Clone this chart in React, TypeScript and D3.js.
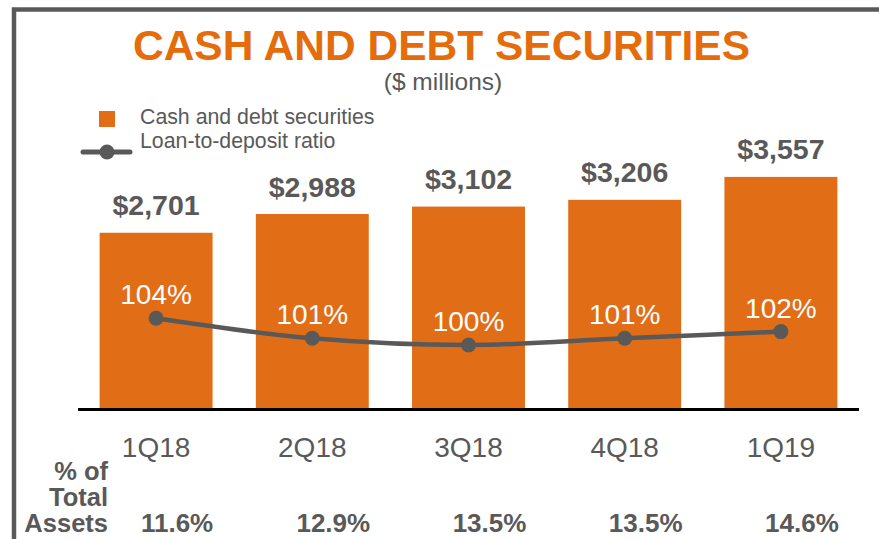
import React from "react";
import * as d3 from "d3";

const categories = ["1Q18", "2Q18", "3Q18", "4Q18", "1Q19"];
const cashValues = [2701, 2988, 3102, 3206, 3557];
const cashLabels = ["$2,701", "$2,988", "$3,102", "$3,206", "$3,557"];
const ratioValues = [104, 101, 100, 101, 102];
const ratioLabels = ["104%", "101%", "100%", "101%", "102%"];
const pctTotalAssets = ["11.6%", "12.9%", "13.5%", "13.5%", "14.6%"];

const W = 879;
const H = 539;
const ORANGE = "#E26D17";
const TITLE_ORANGE = "#E46C0A";
const GRAY = "#595959";
const FONT = "'Liberation Sans', Arial, Helvetica, sans-serif";

export default function App() {
  const x = d3
    .scaleBand<string>()
    .domain(categories)
    .range([78, 859])
    .paddingInner(0.277)
    .paddingOuter(0.1385);
  const y = d3.scaleLinear().domain([0, 4000]).range([409, 148]);
  const yr = d3.scaleLinear().domain([80, 110]).range([479, 278]);
  const cx = (c: string) => (x(c) as number) + x.bandwidth() / 2;

  const line = d3
    .line<number>()
    .x((_, i) => cx(categories[i]))
    .y((v) => yr(v))
    .curve(d3.curveMonotoneX);

  return (
    <svg
      width={W}
      height={H}
      style={{ position: "fixed", left: 0, top: 0, background: "#fff" }}
      fontFamily={FONT}
    >
      <rect width={W} height={H} fill="#fff" />
      {/* frame */}
      <path d={`M14,${H} V9.5 H${W}`} fill="none" stroke={GRAY} strokeWidth={4.5} />

      {/* title */}
      <text x={441.5} y={60} textAnchor="middle" fontSize={42.5} fontWeight="bold" fill={TITLE_ORANGE}>
        CASH AND DEBT SECURITIES
      </text>
      <text x={443} y={90} textAnchor="middle" fontSize={24.5} fill={GRAY}>
        ($ millions)
      </text>

      {/* legend */}
      <rect x={99} y={111} width={16} height={16} fill={ORANGE} />
      <text x={140} y={124} fontSize={21.3} fill={GRAY}>
        Cash and debt securities
      </text>
      <line x1={83} x2={130} y1={152} y2={152} stroke={GRAY} strokeWidth={5} strokeLinecap="round" />
      <circle cx={107} cy={152} r={7.5} fill={GRAY} />
      <text x={140} y={148} fontSize={21.3} fill={GRAY}>
        Loan-to-deposit ratio
      </text>

      {/* bars */}
      {categories.map((c, i) => (
        <rect
          key={c}
          x={x(c)}
          y={y(cashValues[i])}
          width={x.bandwidth()}
          height={y(0) - y(cashValues[i])}
          fill={ORANGE}
        />
      ))}
      {categories.map((c, i) => (
        <text
          key={c}
          x={cx(c)}
          y={y(cashValues[i]) - 17.5}
          textAnchor="middle"
          fontSize={28.5}
          fontWeight="bold"
          fill={GRAY}
        >
          {cashLabels[i]}
        </text>
      ))}

      {/* axis */}
      <line x1={78} x2={859} y1={409.5} y2={409.5} stroke="#000" strokeWidth={3} />

      {/* ratio line */}
      <path d={line(ratioValues) || ""} fill="none" stroke={GRAY} strokeWidth={4.5} />
      {categories.map((c, i) => (
        <circle key={c} cx={cx(c)} cy={yr(ratioValues[i])} r={7.5} fill={GRAY} />
      ))}
      {categories.map((c, i) => (
        <text
          key={c}
          x={cx(c)}
          y={yr(ratioValues[i]) - 14}
          textAnchor="middle"
          fontSize={28}
          fill="#fff"
        >
          {ratioLabels[i]}
        </text>
      ))}

      {/* categories */}
      {categories.map((c) => (
        <text key={c} x={cx(c)} y={457} textAnchor="middle" fontSize={28} fill={GRAY}>
          {c}
        </text>
      ))}

      {/* % of total assets row */}
      <text x={108} textAnchor="end" fontSize={25.5} fontWeight="bold" fill={GRAY}>
        <tspan x={108} y={480}>% of</tspan>
        <tspan x={108} y={506}>Total</tspan>
        <tspan x={108} y={532}>Assets</tspan>
      </text>
      {categories.map((c, i) => (
        <text
          key={c}
          x={cx(c) + 21}
          y={532}
          textAnchor="middle"
          fontSize={26}
          fontWeight="bold"
          fill={GRAY}
        >
          {pctTotalAssets[i]}
        </text>
      ))}
    </svg>
  );
}
